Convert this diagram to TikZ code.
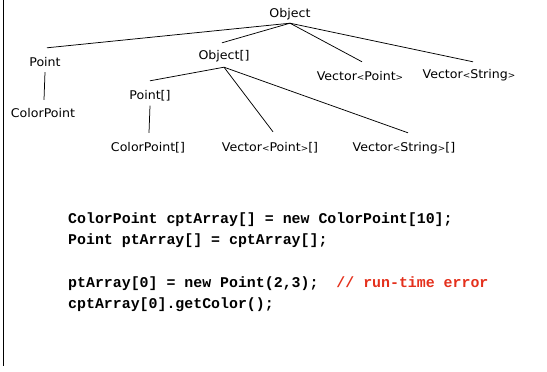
\documentclass[tikz,border=0pt]{standalone}
\usepackage{fontspec}
\usetikzlibrary{calc}
\newfontfamily\labelfont[FakeStretch=1.05]{DejaVu Sans}
\newfontfamily\codefont{Liberation Mono}
\newcommand\ltsym{{\fontsize{8.5}{8.5}\selectfont<}}
\newcommand\gtsym{{\fontsize{8.5}{8.5}\selectfont>}}
\definecolor{errred}{RGB}{228,48,28}
\begin{document}
\begin{tikzpicture}[x=1pt,y=-1pt,
  cls/.style={font=\labelfont\fontsize{12}{14}\selectfont, inner xsep=0pt, inner ysep=3pt,
              text height=9pt, text depth=3pt, anchor=base},
  code/.style={font=\codefont\bfseries\fontsize{14.9}{17}\selectfont, inner sep=0pt, anchor=base west},
  edge/.style={line width=0.75pt, black}]
\useasboundingbox (0,0) rectangle (547,372);
\draw[line width=0.9pt] (3,0) -- (3,366);

\node[cls] (obj)   at (290,17) {Object};
\node[cls] (pt)    at (45,66)  {Point};
\node[cls] (objarr) at (224,59) {Object[]};
\node[cls] (vp)    at (360,80) {Vector\ltsym Point\gtsym};
\node[cls] (vs)    at (469,78.5) {Vector\ltsym String\gtsym};
\node[cls] (cp)    at (43,117) {ColorPoint};
\node[cls] (ptarr) at (150,99.5) {Point[]};
\node[cls] (cparr) at (148,151) {ColorPoint[]};
\node[cls] (vparr) at (270,151) {Vector\ltsym Point\gtsym[]};
\node[cls] (vsarr) at (404,151) {Vector\ltsym String\gtsym[]};

\draw[edge] (obj.south) -- ($(pt.north)+(2,-6)$);
\draw[edge] (obj.south) -- ($(objarr.north)+(-2,-4)$);
\draw[edge] (obj.south) -- ($(vp.north)+(2,-6)$);
\draw[edge] (obj.south) -- ($(vs.north)+(4,-4.5)$);
\draw[edge] (pt.south) -- ($(cp.north)+(1,-5)$);
\draw[edge] ($(objarr.south)+(0,2)$) -- ($(ptarr.north)+(0,-6.5)$);
\draw[edge] ($(objarr.south)+(0,2)$) -- ($(vparr.north)+(3,-7)$);
\draw[edge] ($(objarr.south)+(0,2)$) -- ($(vsarr.north)+(4,-6)$);
\draw[edge] (ptarr.south) -- ($(cparr.north)+(1,-6)$);

\node[code] (l1) at (68,223.5) {ColorPoint cptArray[] = new ColorPoint[10];};
\node[code] (l2) at (68,244) {Point ptArray[] = cptArray[];};
\node[code] (l3) at (68,287.5) {ptArray[0] = new Point(2,3);\ \ \textcolor{errred}{// run-time error}};
\node[code] (l4) at (68,308) {cptArray[0].getColor();};
\end{tikzpicture}
\end{document}
